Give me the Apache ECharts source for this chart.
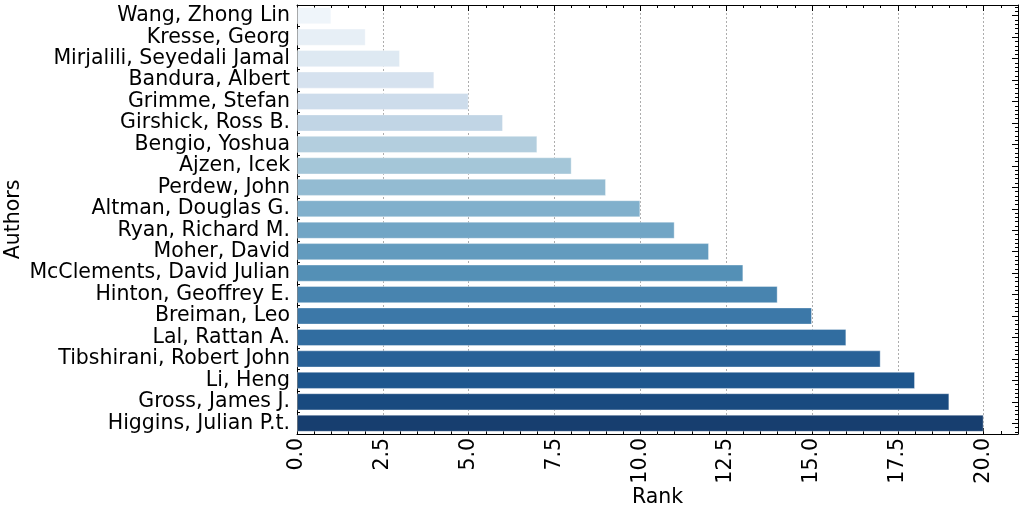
<!DOCTYPE html>
<html>
<head>
<meta charset="utf-8">
<script src="https://cdn.jsdelivr.net/npm/echarts@6/dist/echarts.min.js"></script>
<style>html,body{margin:0;padding:0;background:#fff;}#c{width:1024px;height:516px;}</style>
</head>
<body>
<div id="c"></div>
<script>
const authors = ["Wang, Zhong Lin","Kresse, Georg","Mirjalili, Seyedali Jamal","Bandura, Albert","Grimme, Stefan","Girshick, Ross B.","Bengio, Yoshua","Ajzen, Icek","Perdew, John","Altman, Douglas G.","Ryan, Richard M.","Moher, David","McClements, David Julian","Hinton, Geoffrey E.","Breiman, Leo","Lal, Rattan A.","Tibshirani, Robert John","Li, Heng","Gross, James J.","Higgins, Julian P.t."];
const ranks = [1,2,3,4,5,6,7,8,9,10,11,12,13,14,15,16,17,18,19,20];
const xTicks = ["0.0","2.5","5.0","7.5","10.0","12.5","15.0","17.5","20.0"];

// Blues colormap stops (styling)
const bluesStops = [[247,251,255],[222,235,247],[198,219,239],[158,202,225],[107,174,214],[66,146,198],[33,113,181],[8,81,156],[8,48,107]];
function blues(t){
  const p = t*8, i = Math.min(7, Math.floor(p)), f = p - i;
  return bluesStops[i].map((v,k)=> (v + (bluesStops[i+1][k]-v)*f)/255);
}
function desat(rgb, prop){
  const [r,g,b] = rgb; const mx=Math.max(r,g,b), mn=Math.min(r,g,b);
  const l=(mx+mn)/2; let h=0,s=0;
  if(mx!==mn){const d=mx-mn; s = l>0.5? d/(2-mx-mn) : d/(mx+mn);
    if(mx===r) h=((g-b)/d)%6; else if(mx===g) h=(b-r)/d+2; else h=(r-g)/d+4; h/=6; if(h<0)h+=1;}
  s*=prop;
  function hue(p,q,t){if(t<0)t+=1;if(t>1)t-=1;if(t<1/6)return p+(q-p)*6*t;if(t<1/2)return q;if(t<2/3)return p+(q-p)*(2/3-t)*6;return p;}
  let R,G,B; if(s===0){R=G=B=l;} else {const q=l<0.5?l*(1+s):l+s-l*s; const p=2*l-q; R=hue(p,q,h+1/3);G=hue(p,q,h);B=hue(p,q,h-1/3);}
  return 'rgb('+[R,G,B].map(v=>Math.round(v*255)).join(',')+')';
}
const n = authors.length;
const colors = authors.map((a,i)=>desat(blues((i+1)/(n+1)),0.75));

const font = "DejaVu Sans";
const fs = 20.5;
const chart = echarts.init(document.getElementById('c'), null, {renderer:'canvas'});
chart.setOption({
  animation:false,
  backgroundColor:'#fff',
  grid:{left:297, top:5, right:6, bottom:82, containLabel:false, outerBoundsMode:'none'},
  xAxis:[{
    type:'value', min:0, max:21, interval:2.5, position:'bottom',
    name:'Rank', nameLocation:'middle', nameGap:53, nameMoveOverlap:false,
    nameTextStyle:{fontFamily:font, fontSize:fs, color:'#000'},
    axisLine:{show:true, onZero:false, lineStyle:{color:'#000', width:1}},
    axisTick:{show:true, inside:true, length:6, lineStyle:{color:'#000'}},
    minorTick:{show:true, splitNumber:5, length:3, lineStyle:{color:'#000'}},
    axisLabel:{rotate:90, fontFamily:font, fontSize:fs, color:'#000', margin:4, showMaxLabel:false,
      formatter:function(v){const i=Math.round(v/2.5); return (Math.abs(v-i*2.5)<1e-9 && xTicks[i]!==undefined)? xTicks[i] : '';}},
    splitLine:{show:true, lineStyle:{color:'#999', type:[2,2], width:0.8}}
  },{
    type:'value', min:0, max:21, interval:2.5, position:'top',
    axisLine:{show:true, onZero:false, lineStyle:{color:'#000', width:1}},
    axisTick:{show:true, inside:true, length:6, lineStyle:{color:'#000'}},
    minorTick:{show:true, splitNumber:5, length:3, lineStyle:{color:'#000'}},
    axisLabel:{show:false}, splitLine:{show:false}
  }],
  yAxis:[{
    type:'category', data:authors, inverse:true, position:'left',
    name:'Authors', nameLocation:'middle', nameGap:273, nameRotate:90, nameMoveOverlap:false,
    nameTextStyle:{fontFamily:font, fontSize:fs, color:'#000'},
    axisLine:{show:true, lineStyle:{color:'#000', width:1}},
    axisTick:{show:true, inside:true, length:3, interval:0, lineStyle:{color:'#000'}},
    axisLabel:{fontFamily:font, fontSize:fs, color:'#000', margin:7, interval:0}
  },{
    type:'value', min:-0.5, max:19.5, splitNumber:20, inverse:true, position:'right',
    axisLine:{show:true, onZero:false, lineStyle:{color:'#000', width:1}},
    axisTick:{show:true, inside:true, length:6, lineStyle:{color:'#000'}},
    minorTick:{show:true, splitNumber:5, length:3, lineStyle:{color:'#000'}},
    axisLabel:{show:false}, splitLine:{show:false}
  }],
  series:[{
    type:'bar', xAxisIndex:0, yAxisIndex:0,
    data: ranks.map((v,i)=>({value:v, itemStyle:{color:colors[i]}})),
    barCategoryGap:'20%',
    itemStyle:{borderColor:'rgba(255,255,255,0.35)', borderWidth:1},
    z:3
  }]
});
</script>
</body>
</html>
